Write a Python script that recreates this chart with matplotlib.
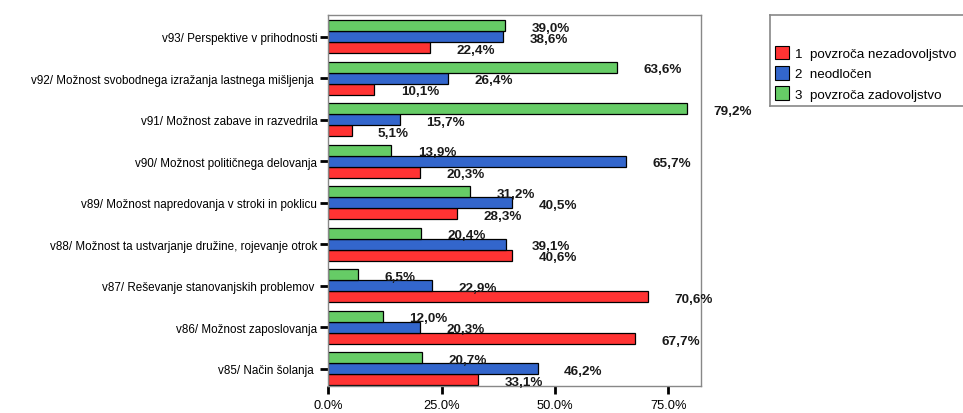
import numpy as np
import matplotlib
matplotlib.use('Agg')
import matplotlib.pyplot as plt
from matplotlib.patches import Patch

plt.rcParams['font.family'] = ['Liberation Sans', 'DejaVu Sans']

# podatki (od spodaj navzgor)
categories = ['v85/ Način šolanja ',
              'v86/ Možnost zaposlovanja',
              'v87/ Reševanje stanovanjskih problemov ',
              'v88/ Možnost ta ustvarjanje družine, rojevanje otrok',
              'v89/ Možnost napredovanja v stroki in poklicu',
              'v90/ Možnost političnega delovanja',
              'v91/ Možnost zabave in razvedrila',
              'v92/ Možnost svobodnega izražanja lastnega mišljenja ',
              'v93/ Perspektive v prihodnosti']
nezadovoljstvo = [33.1, 67.7, 70.6, 40.6, 28.3, 20.3, 5.1, 10.1, 22.4]
neodlocen = [46.2, 20.3, 22.9, 39.1, 40.5, 65.7, 15.7, 26.4, 38.6]
zadovoljstvo = [20.7, 12.0, 6.5, 20.4, 31.2, 13.9, 79.2, 63.6, 39.0]
series_names = ['1  povzroča nezadovoljstvo', '2  neodločen', '3  povzroča zadovoljstvo']
colors = ['#FF3333', '#3366CC', '#66CC66']
xticks = [0, 25, 50, 75]

fig = plt.figure(figsize=(9.63, 4.14), dpi=100)
ax = fig.add_axes([0.3411, 0.0652, 0.3868, 0.8961])

y = np.arange(len(categories))
h = 0.265
for k, vals in enumerate([nezadovoljstvo, neodlocen, zadovoljstvo]):
    pos = y + (k - 1) * h
    ax.barh(pos, vals, height=h, color=colors[k], edgecolor='black', linewidth=0.9)
    for yy, v in zip(pos, vals):
        ax.annotate(('%.1f%%' % v).replace('.', ','), (v, yy), xytext=(19, -1.5),
                    textcoords='offset points', ha='left', va='center',
                    fontsize=9.7, fontweight='bold', color='#1a1a1a')

ax.set_xlim(0, 82.2)
ax.set_ylim(-0.41, 8.517)
ax.set_yticks(y)
ax.set_yticklabels(categories, fontsize=8.4)
ax.set_xticks(xticks)
ax.set_xticklabels(['%.1f%%' % t for t in xticks], fontsize=9.3)
ax.tick_params(axis='both', width=2, length=6, color='black')
ax.tick_params(axis='x', pad=3.5)
ax.tick_params(axis='y', pad=2)
for s in ax.spines.values():
    s.set_color('#888888')
    s.set_linewidth(1)

# legenda
lax = fig.add_axes([770 / 963, (414 - 107) / 414, 0.25, 91 / 414])
lax.set_xticks([])
lax.set_yticks([])
for s in lax.spines.values():
    s.set_color('#888888')
    s.set_linewidth(1.2)
handles = [Patch(facecolor=c, edgecolor='black', linewidth=0.8) for c in colors]
lax.legend(handles, series_names, loc='lower left', frameon=False, fontsize=9.6,
           handlelength=1.05, handleheight=1.2, labelspacing=0.45, handletextpad=0.4,
           borderaxespad=0.0, bbox_to_anchor=(0.0, 0.0))

fig.savefig('out.png', dpi=100)
